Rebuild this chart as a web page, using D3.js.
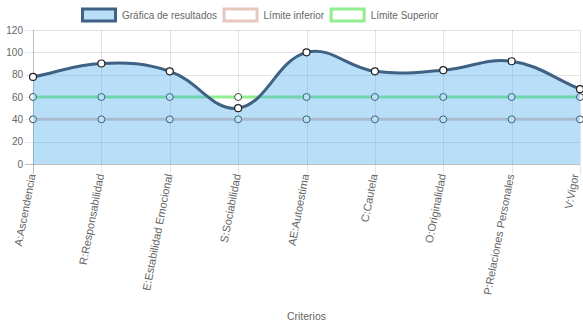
<!DOCTYPE html>
<html><head><meta charset="utf-8">
<script src="https://cdn.jsdelivr.net/npm/d3@7"></script>
<style>
html,body{margin:0;padding:0;background:#fff;}
svg{display:block;font-family:"Liberation Sans",Arial,Helvetica,sans-serif;}
</style></head>
<body><svg id="c" width="583" height="328"></svg>
<script>
const categories = ["A:Ascendencia","R:Responsabilidad","E:Estabilidad Emocional","S:Sociabilidad","AE:Autoestima","C:Cautela","O:Originalidad","P:Relaciones Personales","V:Vigor"];
const resultados = [78, 90, 83, 50, 100, 83, 84, 92, 67];
const limiteInferior = [40, 40, 40, 40, 40, 40, 40, 40, 40];
const limiteSuperior = [60, 60, 60, 60, 60, 60, 60, 60, 60];
const yTicks = [0, 20, 40, 60, 80, 100, 120];
const seriesNames = ["Gráfica de resultados", "Límite inferior", "Límite Superior"];
const axisTitle = "Criterios";

(function () {
const svg = d3.select("#c");
const W = 583, H = 328;
const pL = 33, pR = 580, pT = 30, pB = 164;
const x = d3.scalePoint().domain(categories).range([pL, pR]);
const y = d3.scaleLinear().domain([0, 120]).range([pB, pT]);
const textColor = "#666";
const fontSize = 10;

// grid
const g = svg.append("g");
g.selectAll(".hg").data(yTicks).enter().append("line")
  .attr("x1", pL - 8).attr("x2", pR)
  .attr("y1", d => Math.round(y(d)) + 0.5).attr("y2", d => Math.round(y(d)) + 0.5)
  .attr("stroke", d => d === 0 ? "rgba(0,0,0,0.25)" : "rgba(0,0,0,0.1)").attr("stroke-width", 1);
g.selectAll(".vg").data(categories).enter().append("line")
  .attr("x1", d => Math.round(x(d)) + 0.5).attr("x2", d => Math.round(x(d)) + 0.5)
  .attr("y1", pT).attr("y2", pB + 10)
  .attr("stroke", (d, i) => i === 0 ? "rgba(0,0,0,0.25)" : "rgba(0,0,0,0.1)").attr("stroke-width", 1);

// y labels
g.selectAll(".yl").data(yTicks).enter().append("text")
  .attr("x", pL - 10).attr("y", d => y(d)).attr("dy", "0.35em")
  .attr("text-anchor", "end").attr("font-size", fontSize).attr("fill", textColor)
  .text(d => d);

// x labels
g.selectAll(".xl").data(categories).enter().append("text")
  .attr("transform", (d, i) => `translate(${x(d) - (i === categories.length - 1 ? 5 : 1)},${pB + 10}) rotate(-79)`)
  .attr("dy", "0.35em")
  .attr("text-anchor", "end").attr("font-size", 11).attr("fill", textColor)
  .text(d => d);

svg.append("text").attr("x", (pL + pR) / 2).attr("y", 320)
  .attr("text-anchor", "middle").attr("font-size", 10.5).attr("fill", textColor)
  .text(axisTitle);

// Chart.js-like spline
function splinePath(pts, t) {
  const n = pts.length, cps = [];
  for (let i = 0; i < n; i++) {
    const prev = pts[i - 1] || pts[i], cur = pts[i], next = pts[i + 1] || pts[i];
    const d01 = Math.hypot(cur[0] - prev[0], cur[1] - prev[1]);
    const d12 = Math.hypot(next[0] - cur[0], next[1] - cur[1]);
    let s01 = d01 / (d01 + d12), s12 = d12 / (d01 + d12);
    if (isNaN(s01)) s01 = 0; if (isNaN(s12)) s12 = 0;
    const fa = t * s01, fb = t * s12;
    const cap = v => Math.max(pT, Math.min(pB, v));
    cps.push({
      p: [cur[0] - fa * (next[0] - prev[0]), cap(cur[1] - fa * (next[1] - prev[1]))],
      n: [cur[0] + fb * (next[0] - prev[0]), cap(cur[1] + fb * (next[1] - prev[1]))]
    });
  }
  const p = d3.path();
  p.moveTo(pts[0][0], pts[0][1]);
  for (let i = 1; i < n; i++) {
    p.bezierCurveTo(cps[i - 1].n[0], cps[i - 1].n[1], cps[i].p[0], cps[i].p[1], pts[i][0], pts[i][1]);
  }
  return p.toString();
}

const mainColor = "rgb(62,97,132)";
const mainFill = "rgba(54,162,235,0.35)";
const limits = [
  { values: limiteInferior, stroke: "rgb(230,200,190)" },
  { values: limiteSuperior, stroke: "rgb(144,238,144)" }
];

const ds = svg.append("g");
limits.forEach(d => {
  const pts = categories.map((c, i) => [x(c), y(d.values[i])]);
  ds.append("path").attr("d", splinePath(pts, 0.4)).attr("fill", "none")
    .attr("stroke", d.stroke).attr("stroke-width", 3);
  ds.selectAll(null).data(pts).enter().append("circle")
    .attr("cx", p => p[0]).attr("cy", p => p[1]).attr("r", 3.5)
    .attr("fill", "#fff").attr("stroke", "#444").attr("stroke-width", 1);
});

const mpts = categories.map((c, i) => [x(c), y(resultados[i])]);
const line = splinePath(mpts, 0.4);
ds.append("path").attr("d", line + `L${mpts[mpts.length - 1][0]},${y(0)}L${mpts[0][0]},${y(0)}Z`)
  .attr("fill", mainFill).attr("stroke", "none");
ds.append("path").attr("d", line).attr("fill", "none").attr("stroke", mainColor).attr("stroke-width", 3);
ds.selectAll(null).data(mpts).enter().append("circle")
  .attr("cx", p => p[0]).attr("cy", p => p[1]).attr("r", 3.5)
  .attr("fill", "#fff").attr("stroke", "#222").attr("stroke-width", 1.2);

// legend
const legendItems = [
  { name: seriesNames[0], fill: "rgb(185,222,248)", stroke: mainColor },
  { name: seriesNames[1], fill: "#fff", stroke: "rgb(230,200,190)" },
  { name: seriesNames[2], fill: "#fff", stroke: "rgb(144,238,144)" }
];
const lg = svg.append("g");
const boxW = 33, boxH = 12, gapText = 5, itemGap = 7, ly = 15;
const items = legendItems.map(it => {
  const gi = lg.append("g");
  gi.append("rect").attr("width", boxW).attr("height", boxH).attr("y", ly - boxH / 2)
    .attr("fill", it.fill).attr("stroke", it.stroke).attr("stroke-width", 3);
  const t = gi.append("text").attr("x", boxW + gapText + 1.5).attr("y", ly).attr("dy", "0.35em")
    .attr("font-size", fontSize).attr("fill", textColor).text(it.name);
  const w = boxW + gapText + 1.5 + t.node().getComputedTextLength();
  return { gi, w };
});
let cx = 82.5;
items.forEach(it => { it.gi.attr("transform", `translate(${cx},0)`); cx += it.w + itemGap; });
})();
</script></body></html>
